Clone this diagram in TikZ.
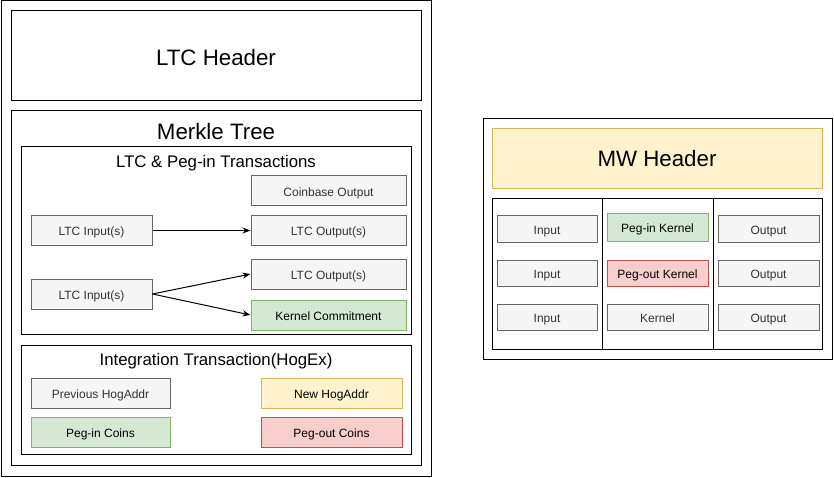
\documentclass[tikz,border=0pt]{standalone}
\usepackage{fontspec}
\setmainfont{Liberation Sans}
\usetikzlibrary{arrows.meta}
\definecolor{grayfill}{HTML}{F5F5F5}
\definecolor{graydraw}{HTML}{666666}
\definecolor{graytext}{HTML}{333333}
\definecolor{greenfill}{HTML}{D5E8D4}
\definecolor{greendraw}{HTML}{82B366}
\definecolor{yellowfill}{HTML}{FFF2CC}
\definecolor{yellowdraw}{HTML}{D6B656}
\definecolor{redfill}{HTML}{F8CECC}
\definecolor{reddraw}{HTML}{B85450}
\tikzset{
  frame/.style={draw=black, line width=1pt},
  item/.style={draw, line width=1pt, inner sep=0pt, text height=13pt, text depth=2pt,
    font=\fontsize{12}{14}\selectfont},
  graybox/.style={item, fill=grayfill, draw=graydraw, text=graytext},
  greenbox/.style={item, fill=greenfill, draw=greendraw},
  yellowbox/.style={item, fill=yellowfill, draw=yellowdraw},
  redbox/.style={item, fill=redfill, draw=reddraw},
  bigtitle/.style={anchor=base, inner sep=0pt, font=\fontsize{22.3}{26}\selectfont},
  subtitle/.style={anchor=base, inner sep=0pt, font=\fontsize{16.8}{20}\selectfont},
  flow/.style={-{Stealth[length=8pt,width=6pt]}, line width=1pt},
}
\begin{document}
\begin{tikzpicture}[x=1pt, y=-1pt]
  \useasboundingbox (0,0) rectangle (834,478);
  % left block
  \draw[frame] (1,1) rectangle (431,476);
  \draw[frame] (11,11) rectangle (421,101);
  \node[bigtitle] (ltchead) at (216,65.3) {LTC Header};
  \draw[frame] (11,111) rectangle (421,465);
  \node[bigtitle] (merkle) at (216,140) {Merkle Tree};
  % ltc and peg-in
  \draw[frame] (21,147) rectangle (411,334);
  \node[subtitle] (ltctx) at (216,167.5) {LTC \& Peg-in Transactions};
  \node[graybox, minimum width=155pt, minimum height=30pt] (coinbase) at (328.5,191) {Coinbase Output};
  \node[graybox, minimum width=155pt, minimum height=29pt] (outa) at (328.5,230.5) {LTC Output(s)};
  \node[graybox, minimum width=121pt, minimum height=29pt] (ina) at (91.5,230.5) {LTC Input(s)};
  \node[graybox, minimum width=155pt, minimum height=30pt] (outb) at (328.5,274) {LTC Output(s)};
  \node[graybox, minimum width=121pt, minimum height=30pt] (inb) at (91.5,294) {LTC Input(s)};
  \node[greenbox, minimum width=155pt, minimum height=30pt] (kcommit) at (328.5,315) {Kernel Commitment};
  \draw[flow] (ina) -- (outa);
  \draw[flow] (inb.east) -- (outb.west);
  \draw[flow] (inb.east) -- (kcommit.west);
  % hogex
  \draw[frame] (21,345) rectangle (411,454);
  \node[subtitle] (hogex) at (216,365) {Integration Transaction(HogEx)};
  \node[graybox, minimum width=139pt, minimum height=30pt] (prevhog) at (100.5,393) {Previous HogAddr};
  \node[greenbox, minimum width=139pt, minimum height=30pt] (pegincoins) at (100.5,432) {Peg-in Coins};
  \node[yellowbox, minimum width=141pt, minimum height=30pt] (newhog) at (331.5,393) {New HogAddr};
  \node[redbox, minimum width=141pt, minimum height=30pt] (pegoutcoins) at (331.5,432) {Peg-out Coins};
  % right block
  \draw[frame] (483,119) rectangle (832,359);
  \node[yellowbox, font=\fontsize{22.3}{26}\selectfont, text height=19pt, text depth=4.6pt,
    minimum width=330pt, minimum height=60pt] (mwhead) at (657,159) {MW Header};
  \draw[frame] (492,199) rectangle (822,349);
  \draw[frame] (602,199) -- (602,349);
  \draw[frame] (713,199) -- (713,349);
  \foreach \y [count=\i] in {229,273,317} {
    \node[graybox, minimum width=100pt, minimum height=26pt] (input\i) at (547,\y) {Input};
    \node[graybox, minimum width=101pt, minimum height=26pt] (output\i) at (768.5,\y) {Output};
  }
  \node[greenbox, minimum width=101pt, minimum height=27pt] (peginkernel) at (657.5,227.5) {Peg-in Kernel};
  \node[redbox, minimum width=101pt, minimum height=26pt] (pegoutkernel) at (657.5,273) {Peg-out Kernel};
  \node[graybox, minimum width=101pt, minimum height=26pt] (kernel) at (657.5,317) {Kernel};
\end{tikzpicture}
\end{document}
